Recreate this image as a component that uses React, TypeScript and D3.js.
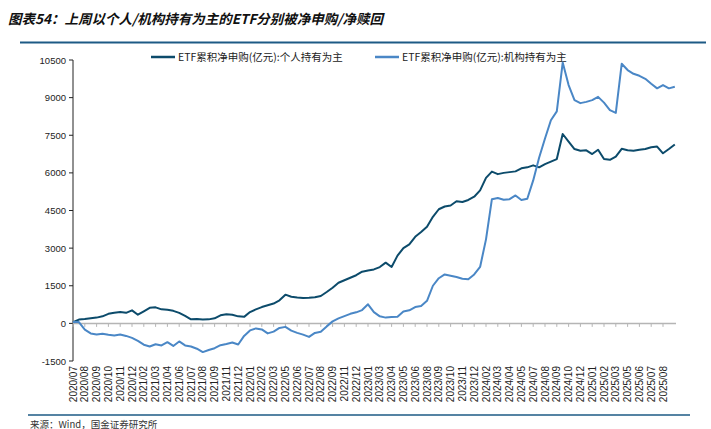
import * as d3 from "d3";

// ─── Data ─────────────────────────────────────────────────────────────────────

const TITLE = "图表54：上周以个人/机构持有为主的ETF分别被净申购/净赎回";
const SOURCE = "来源：Wind，国金证券研究所";
const SERIES_NAMES = [
  "ETF累积净申购(亿元):个人持有为主",
  "ETF累积净申购(亿元):机构持有为主",
];

const X_LABELS = [
  "2020/07", "2020/08", "2020/09", "2020/10", "2020/11", "2020/12",
  "2021/02", "2021/03", "2021/04", "2021/06", "2021/07", "2021/08", "2021/09", "2021/11", "2021/12",
  "2022/01", "2022/02", "2022/03", "2022/05", "2022/06", "2022/07", "2022/08", "2022/09", "2022/11", "2022/12",
  "2023/01", "2023/03", "2023/04", "2023/05", "2023/06", "2023/08", "2023/09", "2023/10", "2023/11", "2023/12",
  "2024/02", "2024/03", "2024/04", "2024/05", "2024/07", "2024/08", "2024/09", "2024/10", "2024/12",
  "2025/01", "2025/02", "2025/03", "2025/05", "2025/06", "2025/07", "2025/08",
];

const Y_TICKS = [-1500, 0, 1500, 3000, 4500, 6000, 7500, 9000, 10500];

// one reading every half label step
const INDIVIDUAL = [
  50, 150, 170, 200, 230, 280, 380, 420, 450, 420,
  520, 345, 480, 620, 640, 560, 540, 500, 420, 300,
  160, 170, 150, 160, 200, 320, 360, 345, 280, 260,
  450, 560, 650, 720, 790, 920, 1145, 1060, 1030, 1010,
  1020, 1040, 1090, 1250, 1420, 1620, 1720, 1820, 1920, 2060,
  2110, 2150, 2245, 2420, 2250, 2700, 3000, 3150, 3450, 3640,
  3850, 4250, 4550, 4660, 4700, 4870, 4840, 4920, 5050, 5300,
  5800, 6050, 5950, 6000, 6030, 6060, 6180, 6220, 6300, 6220,
  6350, 6450, 6550, 7550, 7250, 6950, 6880, 6900, 6750, 6920,
  6550, 6520, 6650, 6960, 6900, 6880, 6920, 6950, 7020, 7050,
  6780, 6950, 7130,
];

const INSTITUTIONAL = [
  50, 50, -250, -400, -440, -410, -450, -480, -440, -500,
  -580, -700, -850, -920, -830, -880, -750, -900, -720, -880,
  -920, -1010, -1145, -1060, -990, -870, -820, -760, -840, -500,
  -280, -200, -240, -400, -330, -180, -140, -290, -380, -450,
  -540, -380, -330, -120, 80, 200, 290, 380, 440, 530,
  760, 450, 280, 230, 250, 260, 470, 520, 650, 690,
  900, 1500, 1800, 1950, 1900, 1850, 1780, 1760, 1950, 2250,
  3350, 4950, 5000, 4930, 4950, 5100, 4920, 4970, 5700, 6600,
  7370, 8100, 8450, 10400, 9500, 8900, 8780, 8830, 8900, 9030,
  8800, 8500, 8390, 10350, 10100, 9950, 9870, 9750, 9550, 9370,
  9500, 9370, 9430,
];

// ─── Style ────────────────────────────────────────────────────────────────────

const DARK = "#0c4b6b";
const LIGHT = "#4a87c6";
const RULE = "#1d5a85";
const ZERO = "#b5b5b5";
const LATIN = "'Liberation Sans', Arial, sans-serif";
const CJK = "'Noto Sans CJK SC', sans-serif";

const W = 711;
const H = 429;

export default function App() {
  const x = d3.scaleLinear().domain([0, 51]).range([73, 674.8]);
  const y = d3.scaleLinear().domain([-1500, 10500]).range([361, 60]);

  const line = d3
    .line<number>()
    .x((_, i) => x(i / 2))
    .y((d) => y(d));

  const series = [
    { name: SERIES_NAMES[0], values: INDIVIDUAL, color: DARK },
    { name: SERIES_NAMES[1], values: INSTITUTIONAL, color: LIGHT },
  ];

  return (
    <svg
      width={W}
      height={H}
      viewBox={`0 0 ${W} ${H}`}
      style={{ position: "absolute", left: 0, top: 0, background: "#fff" }}
    >
      <rect width={W} height={H} fill="#fff" />

      {/* title */}
      <text
        x={8}
        y={24}
        fontSize={13.5}
        fontWeight={700}
        fontStyle="italic"
        fontFamily={CJK}
        fill="#111"
      >
        {TITLE}
      </text>
      <line x1={20} x2={706} y1={42.5} y2={42.5} stroke={RULE} strokeWidth={2} />

      {/* legend */}
      <line x1={151} x2={175} y1={57} y2={57} stroke={DARK} strokeWidth={2.5} />
      <text x={178} y={61} fontSize={10.5} fontFamily={CJK} fill="#222">
        {series[0].name}
      </text>
      <line x1={375} x2={399} y1={57} y2={57} stroke={LIGHT} strokeWidth={2.5} />
      <text x={402} y={61} fontSize={10.5} fontFamily={CJK} fill="#222">
        {series[1].name}
      </text>

      {/* y axis */}
      <line x1={73} x2={73} y1={y(10500)} y2={y(-1500)} stroke="#222" strokeWidth={1} />
      {Y_TICKS.map((t) => (
        <g key={t}>
          <line x1={69} x2={73} y1={y(t)} y2={y(t)} stroke="#222" />
          <text
            x={66}
            y={y(t) + 3.5}
            textAnchor="end"
            fontSize={9.5}
            fontFamily={LATIN}
            fill="#222"
          >
            {t}
          </text>
        </g>
      ))}

      {/* zero line with ticks */}
      <line x1={73} x2={676} y1={y(0)} y2={y(0)} stroke={ZERO} strokeWidth={1.5} />
      {X_LABELS.map((_, i) => (
        <line
          key={i}
          x1={x(i)}
          x2={x(i)}
          y1={y(0)}
          y2={y(0) + 3.5}
          stroke={ZERO}
          strokeWidth={1}
        />
      ))}

      {/* x labels */}
      {X_LABELS.map((lab, i) => (
        <text
          key={lab}
          transform={`translate(${x(i) + 3.5},366) rotate(-90)`}
          textAnchor="end"
          fontSize={10}
          fontFamily={LATIN}
          fill="#222"
        >
          {lab}
        </text>
      ))}

      {/* series */}
      {series.map((s) => (
        <path
          key={s.name}
          d={line(s.values) ?? ""}
          fill="none"
          stroke={s.color}
          strokeWidth={2}
          strokeLinejoin="round"
        />
      ))}

      {/* footer */}
      <line x1={28} x2={690} y1={415} y2={415} stroke={RULE} strokeWidth={1.5} />
      <text x={30} y={427.5} fontSize={9.5} fontFamily={CJK} fill="#333">
        {SOURCE}
      </text>
    </svg>
  );
}
